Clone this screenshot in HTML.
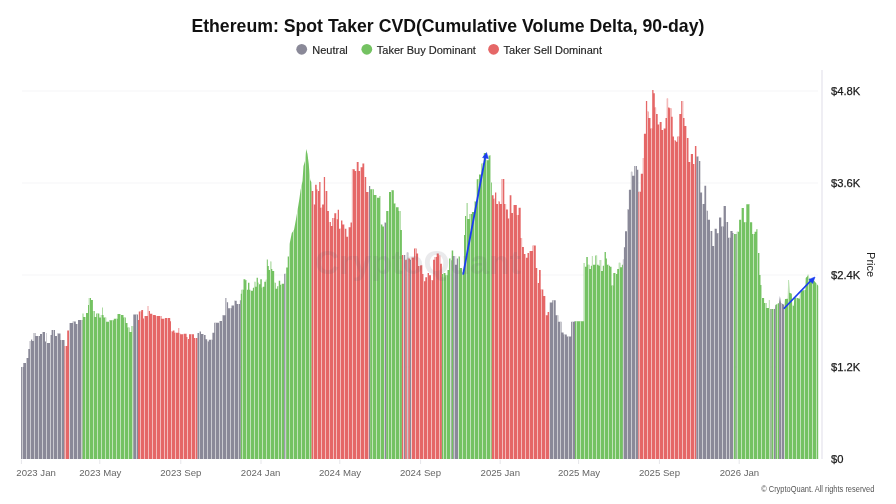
<!DOCTYPE html>
<html><head><meta charset="utf-8">
<style>
html,body{margin:0;padding:0;background:#fff;width:896px;height:504px;overflow:hidden}
svg{display:block;font-family:"Liberation Sans",sans-serif;will-change:transform}
</style></head>
<body>
<svg width="896" height="504" viewBox="0 0 896 504">
<defs><clipPath id="bc">
<polygon points="21.10,459.00 21.10,367.00 21.10,367.00 23.30,367.00 23.30,363.00 26.00,363.00 26.00,358.00 28.30,358.00 28.30,349.00 29.70,349.00 29.70,341.00 31.00,341.00 31.00,339.50 32.20,339.50 32.20,341.00 33.60,341.00 33.60,333.00 35.50,333.00 35.50,336.00 37.70,336.00 37.70,336.00 40.00,336.00 40.00,334.00 42.20,334.00 42.20,332.00 45.00,332.00 45.00,341.60 46.00,341.60 46.00,333.00 46.60,333.00 46.60,343.00 50.00,343.00 50.00,335.00 51.60,335.00 51.60,330.00 55.00,330.00 55.00,336.00 57.20,336.00 57.20,333.50 60.50,333.50 60.50,340.00 64.50,340.00 64.50,459.00"/>
<polygon points="64.50,459.00 64.50,340.00 64.50,346.00 67.20,346.00 67.20,330.50 69.40,330.50 69.40,459.00"/>
<polygon points="69.40,459.00 69.40,330.50 69.40,323.00 72.70,323.00 72.70,321.50 75.80,321.50 75.80,324.00 78.00,324.00 78.00,320.00 82.60,320.00 82.60,459.00"/>
<polygon points="82.60,459.00 82.60,320.00 82.60,313.60 83.40,313.60 83.40,317.00 86.00,317.00 86.00,313.00 88.00,313.00 88.00,305.00 88.80,305.00 88.80,298.00 91.00,298.00 91.00,300.00 92.90,300.00 92.90,311.00 94.70,311.00 94.70,317.00 96.20,317.00 96.20,313.60 99.30,313.60 99.30,317.40 100.80,317.40 100.80,315.00 102.00,315.00 102.00,307.50 102.60,307.50 102.60,315.00 103.60,315.00 103.60,317.50 106.20,317.50 106.20,321.80 109.00,321.80 109.00,320.30 113.80,320.30 113.80,318.70 117.50,318.70 117.50,314.00 121.00,314.00 121.00,315.00 123.50,315.00 123.50,317.50 125.80,317.50 125.80,323.00 127.50,323.00 127.50,327.50 129.50,327.50 129.50,332.00 131.50,332.00 131.50,326.00 133.30,326.00 133.30,459.00"/>
<polygon points="133.30,459.00 133.30,326.00 133.30,314.60 138.00,314.60 138.00,459.00"/>
<polygon points="138.00,459.00 138.00,314.60 138.00,320.00 138.80,320.00 138.80,311.40 141.30,311.40 141.30,310.00 143.10,310.00 143.10,318.40 144.00,318.40 144.00,316.00 147.70,316.00 147.70,306.00 148.40,306.00 148.40,311.00 150.00,311.00 150.00,313.70 152.40,313.70 152.40,315.10 155.80,315.10 155.80,316.00 161.50,316.00 161.50,318.80 165.00,318.80 165.00,318.00 170.20,318.00 170.20,321.20 171.00,321.20 171.00,331.40 172.70,331.40 172.70,330.50 174.50,330.50 174.50,332.80 178.50,332.80 178.50,328.00 179.20,328.00 179.20,333.30 180.20,333.30 180.20,334.20 183.80,334.20 183.80,333.70 186.60,333.70 186.60,337.00 187.60,337.00 187.60,339.00 189.00,339.00 189.00,334.20 191.30,334.20 191.30,334.20 194.00,334.20 194.00,338.00 197.50,338.00 197.50,459.00"/>
<polygon points="197.50,459.00 197.50,338.00 197.50,333.00 199.50,333.00 199.50,331.50 201.00,331.50 201.00,334.00 203.80,334.00 203.80,335.00 205.60,335.00 205.60,339.30 207.20,339.30 207.20,341.40 208.80,341.40 208.80,339.80 212.40,339.80 212.40,332.80 214.20,332.80 214.20,322.70 219.00,322.70 219.00,321.00 222.20,321.00 222.20,315.20 225.40,315.20 225.40,298.00 226.50,298.00 226.50,302.30 228.10,302.30 228.10,308.20 231.50,308.20 231.50,305.50 234.00,305.50 234.00,300.70 236.70,300.70 236.70,303.90 239.90,303.90 239.90,300.20 240.80,300.20 240.80,459.00"/>
<polygon points="240.80,459.00 240.80,300.20 240.80,293.70 241.50,293.70 241.50,289.70 243.50,289.70 243.50,279.30 245.40,279.30 245.40,280.30 247.00,280.30 247.00,289.70 248.00,289.70 248.00,282.80 249.40,282.80 249.40,289.70 250.40,289.70 250.40,290.70 252.90,290.70 252.90,287.70 254.40,287.70 254.40,281.80 255.40,281.80 255.40,286.70 256.60,286.70 256.60,277.80 257.90,277.80 257.90,282.80 258.90,282.80 258.90,284.30 260.30,284.30 260.30,279.30 261.80,279.30 261.80,287.70 262.80,287.70 262.80,286.70 264.30,286.70 264.30,281.80 265.80,281.80 265.80,279.80 266.80,279.80 266.80,259.40 267.80,259.40 267.80,265.90 268.80,265.90 268.80,269.90 270.30,269.90 270.30,261.40 271.30,261.40 271.30,268.90 272.30,268.90 272.30,270.90 274.20,270.90 274.20,282.80 275.70,282.80 275.70,288.70 277.20,288.70 277.20,286.20 278.70,286.20 278.70,280.80 280.20,280.80 280.20,284.80 281.70,284.80 281.70,283.80 284.20,283.80 284.20,459.00"/>
<polygon points="284.20,459.00 284.20,283.80 284.20,273.80 286.20,273.80 286.20,459.00"/>
<polygon points="286.20,459.00 286.20,273.80 286.20,267.40 287.70,267.40 287.70,256.50 289.10,256.50 289.60,244.00 291.80,233.00 294.00,230.00 296.20,218.00 298.40,205.00 299.50,198.00 300.60,190.00 302.50,181.00 303.50,166.00 305.00,161.00 306.25,149.00 307.50,154.00 308.75,164.00 309.40,172.50 310.25,180.00 311.30,182.00 311.60,190.87 311.60,459.00"/>
<polygon points="311.60,459.00 311.60,190.87 311.60,190.90 313.40,190.90 313.40,204.40 315.10,204.40 315.10,184.80 316.70,184.80 316.70,189.50 317.80,189.50 317.80,190.90 319.20,190.90 319.20,182.00 320.50,182.00 320.50,207.80 322.10,207.80 322.10,204.40 323.80,204.40 323.80,177.00 325.10,177.00 325.10,190.90 327.30,190.90 327.30,211.10 328.90,211.10 328.90,222.00 330.90,222.00 330.90,226.00 332.30,226.00 332.30,217.90 334.30,217.90 334.30,213.20 336.30,213.20 336.30,219.20 337.70,219.20 337.70,209.80 339.00,209.80 339.00,228.70 341.00,228.70 341.00,220.60 342.40,220.60 342.40,224.60 344.40,224.60 344.40,228.70 346.40,228.70 346.40,236.80 348.50,236.80 348.50,227.30 350.50,227.30 350.50,222.60 351.90,222.60 351.90,169.20 354.80,169.20 354.80,171.10 356.70,171.10 356.70,162.00 358.60,162.00 358.60,171.10 360.50,171.10 360.50,167.30 362.40,167.30 362.40,163.50 364.30,163.50 364.30,176.90 366.20,176.90 366.20,192.00 369.00,192.00 369.00,459.00"/>
<polygon points="369.00,459.00 369.00,192.00 369.00,186.00 370.20,186.00 370.20,459.00"/>
<polygon points="370.20,459.00 370.20,186.00 370.20,189.20 373.80,189.20 373.80,195.00 376.70,195.00 376.70,197.80 379.50,197.80 379.50,196.00 380.50,196.00 380.50,224.50 382.40,224.50 382.40,226.40 384.30,226.40 384.30,459.00"/>
<polygon points="384.30,459.00 384.30,226.40 384.30,222.60 386.20,222.60 386.20,459.00"/>
<polygon points="386.20,459.00 386.20,222.60 386.20,211.00 389.00,211.00 389.00,192.00 391.00,192.00 391.00,190.20 393.80,190.20 393.80,203.50 395.70,203.50 395.70,207.30 398.60,207.30 398.60,211.00 400.50,211.00 400.50,230.00 401.90,230.00 401.90,459.00"/>
<polygon points="401.90,459.00 401.90,230.00 401.90,255.00 403.70,255.00 403.70,459.00"/>
<polygon points="403.70,459.00 403.70,255.00 403.70,255.00 405.20,255.00 405.20,459.00"/>
<polygon points="405.20,459.00 405.20,255.00 405.20,259.70 406.80,259.70 406.80,459.00"/>
<polygon points="406.80,459.00 406.80,259.70 406.80,252.50 408.30,252.50 408.30,459.00"/>
<polygon points="408.30,459.00 408.30,252.50 408.30,258.60 409.90,258.60 409.90,459.00"/>
<polygon points="409.90,459.00 409.90,258.60 409.90,259.70 411.40,259.70 411.40,459.00"/>
<polygon points="411.40,459.00 411.40,259.70 411.40,257.60 414.00,257.60 414.00,248.50 416.60,248.50 416.60,253.50 418.10,253.50 418.10,265.90 420.20,265.90 420.20,265.30 422.30,265.30 422.30,274.10 423.80,274.10 423.80,281.30 425.30,281.30 425.30,277.20 427.40,277.20 427.40,273.10 429.00,273.10 429.00,275.20 431.00,275.20 431.00,280.30 433.10,280.30 433.10,259.70 434.60,259.70 434.60,257.10 436.70,257.10 436.70,253.50 438.80,253.50 438.80,255.50 440.30,255.50 440.30,263.80 441.90,263.80 441.90,459.00"/>
<polygon points="441.90,459.00 441.90,263.80 441.90,274.10 443.40,274.10 443.40,273.10 445.50,273.10 445.50,275.20 447.50,275.20 447.50,270.00 449.10,270.00 449.10,258.60 450.60,258.60 450.60,459.00"/>
<polygon points="450.60,459.00 450.60,258.60 450.60,260.20 451.70,260.20 451.70,459.00"/>
<polygon points="451.70,459.00 451.70,260.20 451.70,250.50 453.20,250.50 453.20,459.00"/>
<polygon points="453.20,459.00 453.20,250.50 453.20,256.10 454.80,256.10 454.80,264.80 456.80,264.80 456.80,258.60 458.40,258.60 458.40,459.00"/>
<polygon points="458.40,459.00 458.40,258.60 458.40,256.60 459.90,256.60 459.90,267.90 462.00,267.90 462.00,272.00 464.00,272.00 464.00,235.00 465.00,235.00 465.00,216.00 466.60,216.00 466.60,203.00 467.50,203.00 467.50,219.00 469.50,219.00 469.50,214.00 471.90,214.00 471.90,212.00 474.30,212.00 474.30,201.60 476.70,201.60 476.70,179.30 479.00,179.30 479.00,174.60 481.40,174.60 481.40,163.50 483.80,163.50 483.80,153.10 486.20,153.10 486.20,160.30 488.60,160.30 488.60,155.50 491.00,155.50 491.00,182.50 491.80,182.50 491.80,459.00"/>
<polygon points="491.80,459.00 491.80,182.50 491.80,195.20 493.60,195.20 493.60,198.80 495.00,198.80 495.00,192.50 496.30,192.50 496.30,204.00 498.00,204.00 498.00,201.50 499.80,201.50 499.80,204.00 501.60,204.00 501.60,179.00 504.30,179.00 504.30,204.00 506.10,204.00 506.10,209.50 507.90,209.50 507.90,218.40 509.60,218.40 509.60,195.20 511.40,195.20 511.40,213.00 513.20,213.00 513.20,205.00 516.80,205.00 516.80,214.90 518.60,214.90 518.60,207.70 520.70,207.70 520.70,238.00 522.10,238.00 522.10,247.00 523.90,247.00 523.90,254.00 525.70,254.00 525.70,257.70 527.50,257.70 527.50,253.10 529.40,253.10 529.40,251.00 532.60,251.00 532.60,245.60 535.80,245.60 535.80,268.10 537.30,268.10 537.30,283.10 539.00,283.10 539.00,270.00 540.70,270.00 540.70,289.50 543.30,289.50 543.30,296.00 545.40,296.00 545.40,315.20 547.60,315.20 547.60,312.00 549.70,312.00 549.70,459.00"/>
<polygon points="549.70,459.00 549.70,312.00 549.70,302.40 552.30,302.40 552.30,300.20 555.70,300.20 555.70,315.20 558.30,315.20 558.30,321.70 561.50,321.70 561.50,332.40 563.60,332.40 563.60,334.50 566.80,334.50 566.80,336.60 571.10,336.60 571.10,321.70 574.30,321.70 574.30,321.20 575.00,321.20 575.00,459.00"/>
<polygon points="575.00,459.00 575.00,321.20 583.70,321.20 583.70,263.00 584.70,263.00 584.70,266.80 586.30,266.80 586.30,257.00 587.80,257.00 587.80,264.80 589.40,264.80 589.40,268.90 590.90,268.90 590.90,265.80 591.90,265.80 591.90,256.00 593.00,256.00 593.00,264.80 595.30,264.80 595.30,255.50 597.10,255.50 597.10,264.80 598.60,264.80 598.60,265.80 599.70,265.80 599.70,260.10 601.20,260.10 601.20,271.00 602.80,271.00 602.80,265.80 604.30,265.80 604.30,252.00 605.90,252.00 605.90,258.60 606.90,258.60 606.90,264.80 609.00,264.80 609.00,265.80 610.00,265.80 610.00,266.80 611.50,266.80 611.50,285.40 613.30,285.40 613.30,273.00 615.70,273.00 615.70,274.00 617.20,274.00 617.20,268.90 618.80,268.90 618.80,262.70 620.30,262.70 620.30,267.30 621.90,267.30 621.90,264.80 622.90,264.80 622.90,459.00"/>
<polygon points="622.90,459.00 622.90,264.80 622.90,259.60 623.90,259.60 623.90,247.20 625.00,247.20 625.00,231.30 627.00,231.30 627.00,209.50 628.90,209.50 628.90,189.70 630.90,189.70 630.90,171.80 632.30,171.80 632.30,175.80 634.30,175.80 634.30,166.00 636.90,166.00 636.90,169.80 638.30,169.80 638.30,459.00"/>
<polygon points="638.30,459.00 638.30,169.80 638.30,191.70 640.80,191.70 640.80,173.80 642.80,173.80 642.80,158.00 643.90,158.00 643.90,133.80 645.90,133.80 645.90,101.00 647.20,101.00 647.20,111.50 648.50,111.50 648.50,118.00 650.50,118.00 650.50,128.60 652.20,128.60 652.20,89.90 653.50,89.90 653.50,93.20 654.80,93.20 654.80,107.60 656.10,107.60 656.10,114.10 657.70,114.10 657.70,124.60 659.60,124.60 659.60,122.00 661.60,122.00 661.60,129.90 663.60,129.90 663.60,128.60 665.50,128.60 665.50,118.00 666.80,118.00 666.80,98.40 668.10,98.40 668.10,107.60 669.50,107.60 669.50,108.20 671.40,108.20 671.40,116.80 672.70,116.80 672.70,136.40 674.00,136.40 674.00,140.40 676.00,140.40 676.00,141.70 677.30,141.70 677.30,136.40 679.30,136.40 679.30,114.10 681.20,114.10 681.20,101.00 683.20,101.00 683.20,118.00 684.50,118.00 684.50,126.00 686.50,126.00 686.50,138.00 688.50,138.00 688.50,162.00 690.80,162.00 690.80,154.00 693.00,154.00 693.00,164.00 694.90,164.00 694.90,146.00 696.40,146.00 696.40,459.00"/>
<polygon points="696.40,459.00 696.40,146.00 696.40,156.40 698.70,156.40 698.70,160.90 700.30,160.90 700.30,192.60 702.10,192.60 702.10,203.90 704.40,203.90 704.40,185.80 706.20,185.80 706.20,210.70 707.80,210.70 707.80,219.70 710.00,219.70 710.00,231.00 712.30,231.00 712.30,246.00 714.50,246.00 714.50,228.80 716.80,228.80 716.80,233.30 719.00,233.30 719.00,217.40 721.30,217.40 721.30,226.50 723.60,226.50 723.60,206.10 725.90,206.10 725.90,222.00 728.10,222.00 728.10,237.80 730.40,237.80 730.40,231.00 732.60,231.00 732.60,233.00 733.60,233.00 733.60,459.00"/>
<polygon points="733.60,459.00 733.60,233.00 733.60,234.00 735.80,234.00 735.80,459.00"/>
<polygon points="735.80,459.00 735.80,234.00 736.70,234.00 736.70,459.00"/>
<polygon points="736.70,459.00 736.70,234.00 736.80,234.00 736.80,231.70 739.10,231.70 739.10,219.80 741.50,219.80 741.50,207.90 743.90,207.90 743.90,222.20 746.30,222.20 746.30,204.30 749.90,204.30 749.90,222.20 752.20,222.20 752.20,234.00 754.60,234.00 754.60,231.70 756.30,231.70 756.30,229.30 757.70,229.30 757.70,253.00 759.40,253.00 759.40,275.00 760.50,275.00 760.50,285.00 761.80,285.00 761.80,298.00 764.10,298.00 764.10,303.00 766.50,303.00 766.50,308.00 768.90,308.00 768.90,300.00 769.60,300.00 769.60,309.00 770.60,309.00 770.60,459.00"/>
<polygon points="770.60,459.00 770.60,309.00 771.60,309.00 771.60,459.00"/>
<polygon points="771.60,459.00 771.60,309.00 772.00,309.00 773.00,309.00 774.00,309.00 774.00,459.00"/>
<polygon points="774.00,459.00 774.00,309.00 774.90,309.00 775.20,305.00 775.80,304.68 775.80,459.00"/>
<polygon points="775.80,459.00 775.80,304.68 779.00,303.00 779.10,302.22 779.10,459.00"/>
<polygon points="779.10,459.00 779.10,302.22 779.90,296.00 781.00,303.00 784.50,305.00 784.70,302.60 784.70,459.00"/>
<polygon points="784.70,459.00 784.70,302.60 785.00,299.00 787.80,298.70 788.10,280.00 789.00,280.00 789.50,292.80 791.80,293.80 792.20,305.70 793.80,305.70 794.20,297.70 796.70,297.70 799.70,298.70 800.10,290.80 805.40,290.00 805.70,277.90 807.60,276.00 808.00,274.00 809.60,278.90 813.60,280.00 816.00,282.90 818.20,285.80 818.20,459.00"/>
</clipPath></defs>
<text x="191.4" y="31.9" font-size="18.4" font-weight="bold" fill="#111" textLength="513" lengthAdjust="spacingAndGlyphs">Ethereum: Spot Taker CVD(Cumulative Volume Delta, 90-day)</text>
<g font-size="11" fill="#222" stroke="#222" stroke-width="0.15">
<circle cx="301.7" cy="49.3" r="5.4" fill="#8a8998" stroke="none"/>
<text x="312.3" y="53.9">Neutral</text>
<circle cx="366.8" cy="49.3" r="5.4" fill="#74c262" stroke="none"/>
<text x="376.8" y="53.9">Taker Buy Dominant</text>
<circle cx="493.6" cy="49.3" r="5.4" fill="#e56767" stroke="none"/>
<text x="503.6" y="53.9">Taker Sell Dominant</text>
</g>
<g stroke="#f6f6f7" stroke-width="1.2">
<path d="M22 91H818M22 183H818M22 275H818M22 367H818"/>
</g>
<g>
<polygon fill="#8a8998" points="21.10,459.00 21.10,367.00 21.10,367.00 23.30,367.00 23.30,363.00 26.00,363.00 26.00,358.00 28.30,358.00 28.30,349.00 29.70,349.00 29.70,341.00 31.00,341.00 31.00,339.50 32.20,339.50 32.20,341.00 33.60,341.00 33.60,333.00 35.50,333.00 35.50,336.00 37.70,336.00 37.70,336.00 40.00,336.00 40.00,334.00 42.20,334.00 42.20,332.00 45.00,332.00 45.00,341.60 46.00,341.60 46.00,333.00 46.60,333.00 46.60,343.00 50.00,343.00 50.00,335.00 51.60,335.00 51.60,330.00 55.00,330.00 55.00,336.00 57.20,336.00 57.20,333.50 60.50,333.50 60.50,340.00 64.50,340.00 64.50,459.00"/>
<polygon fill="#e56767" points="64.50,459.00 64.50,340.00 64.50,346.00 67.20,346.00 67.20,330.50 69.40,330.50 69.40,459.00"/>
<polygon fill="#8a8998" points="69.40,459.00 69.40,330.50 69.40,323.00 72.70,323.00 72.70,321.50 75.80,321.50 75.80,324.00 78.00,324.00 78.00,320.00 82.60,320.00 82.60,459.00"/>
<polygon fill="#74c262" points="82.60,459.00 82.60,320.00 82.60,313.60 83.40,313.60 83.40,317.00 86.00,317.00 86.00,313.00 88.00,313.00 88.00,305.00 88.80,305.00 88.80,298.00 91.00,298.00 91.00,300.00 92.90,300.00 92.90,311.00 94.70,311.00 94.70,317.00 96.20,317.00 96.20,313.60 99.30,313.60 99.30,317.40 100.80,317.40 100.80,315.00 102.00,315.00 102.00,307.50 102.60,307.50 102.60,315.00 103.60,315.00 103.60,317.50 106.20,317.50 106.20,321.80 109.00,321.80 109.00,320.30 113.80,320.30 113.80,318.70 117.50,318.70 117.50,314.00 121.00,314.00 121.00,315.00 123.50,315.00 123.50,317.50 125.80,317.50 125.80,323.00 127.50,323.00 127.50,327.50 129.50,327.50 129.50,332.00 131.50,332.00 131.50,326.00 133.30,326.00 133.30,459.00"/>
<polygon fill="#8a8998" points="133.30,459.00 133.30,326.00 133.30,314.60 138.00,314.60 138.00,459.00"/>
<polygon fill="#e56767" points="138.00,459.00 138.00,314.60 138.00,320.00 138.80,320.00 138.80,311.40 141.30,311.40 141.30,310.00 143.10,310.00 143.10,318.40 144.00,318.40 144.00,316.00 147.70,316.00 147.70,306.00 148.40,306.00 148.40,311.00 150.00,311.00 150.00,313.70 152.40,313.70 152.40,315.10 155.80,315.10 155.80,316.00 161.50,316.00 161.50,318.80 165.00,318.80 165.00,318.00 170.20,318.00 170.20,321.20 171.00,321.20 171.00,331.40 172.70,331.40 172.70,330.50 174.50,330.50 174.50,332.80 178.50,332.80 178.50,328.00 179.20,328.00 179.20,333.30 180.20,333.30 180.20,334.20 183.80,334.20 183.80,333.70 186.60,333.70 186.60,337.00 187.60,337.00 187.60,339.00 189.00,339.00 189.00,334.20 191.30,334.20 191.30,334.20 194.00,334.20 194.00,338.00 197.50,338.00 197.50,459.00"/>
<polygon fill="#8a8998" points="197.50,459.00 197.50,338.00 197.50,333.00 199.50,333.00 199.50,331.50 201.00,331.50 201.00,334.00 203.80,334.00 203.80,335.00 205.60,335.00 205.60,339.30 207.20,339.30 207.20,341.40 208.80,341.40 208.80,339.80 212.40,339.80 212.40,332.80 214.20,332.80 214.20,322.70 219.00,322.70 219.00,321.00 222.20,321.00 222.20,315.20 225.40,315.20 225.40,298.00 226.50,298.00 226.50,302.30 228.10,302.30 228.10,308.20 231.50,308.20 231.50,305.50 234.00,305.50 234.00,300.70 236.70,300.70 236.70,303.90 239.90,303.90 239.90,300.20 240.80,300.20 240.80,459.00"/>
<polygon fill="#74c262" points="240.80,459.00 240.80,300.20 240.80,293.70 241.50,293.70 241.50,289.70 243.50,289.70 243.50,279.30 245.40,279.30 245.40,280.30 247.00,280.30 247.00,289.70 248.00,289.70 248.00,282.80 249.40,282.80 249.40,289.70 250.40,289.70 250.40,290.70 252.90,290.70 252.90,287.70 254.40,287.70 254.40,281.80 255.40,281.80 255.40,286.70 256.60,286.70 256.60,277.80 257.90,277.80 257.90,282.80 258.90,282.80 258.90,284.30 260.30,284.30 260.30,279.30 261.80,279.30 261.80,287.70 262.80,287.70 262.80,286.70 264.30,286.70 264.30,281.80 265.80,281.80 265.80,279.80 266.80,279.80 266.80,259.40 267.80,259.40 267.80,265.90 268.80,265.90 268.80,269.90 270.30,269.90 270.30,261.40 271.30,261.40 271.30,268.90 272.30,268.90 272.30,270.90 274.20,270.90 274.20,282.80 275.70,282.80 275.70,288.70 277.20,288.70 277.20,286.20 278.70,286.20 278.70,280.80 280.20,280.80 280.20,284.80 281.70,284.80 281.70,283.80 284.20,283.80 284.20,459.00"/>
<polygon fill="#8a8998" points="284.20,459.00 284.20,283.80 284.20,273.80 286.20,273.80 286.20,459.00"/>
<polygon fill="#74c262" points="286.20,459.00 286.20,273.80 286.20,267.40 287.70,267.40 287.70,256.50 289.10,256.50 289.60,244.00 291.80,233.00 294.00,230.00 296.20,218.00 298.40,205.00 299.50,198.00 300.60,190.00 302.50,181.00 303.50,166.00 305.00,161.00 306.25,149.00 307.50,154.00 308.75,164.00 309.40,172.50 310.25,180.00 311.30,182.00 311.60,190.87 311.60,459.00"/>
<polygon fill="#e56767" points="311.60,459.00 311.60,190.87 311.60,190.90 313.40,190.90 313.40,204.40 315.10,204.40 315.10,184.80 316.70,184.80 316.70,189.50 317.80,189.50 317.80,190.90 319.20,190.90 319.20,182.00 320.50,182.00 320.50,207.80 322.10,207.80 322.10,204.40 323.80,204.40 323.80,177.00 325.10,177.00 325.10,190.90 327.30,190.90 327.30,211.10 328.90,211.10 328.90,222.00 330.90,222.00 330.90,226.00 332.30,226.00 332.30,217.90 334.30,217.90 334.30,213.20 336.30,213.20 336.30,219.20 337.70,219.20 337.70,209.80 339.00,209.80 339.00,228.70 341.00,228.70 341.00,220.60 342.40,220.60 342.40,224.60 344.40,224.60 344.40,228.70 346.40,228.70 346.40,236.80 348.50,236.80 348.50,227.30 350.50,227.30 350.50,222.60 351.90,222.60 351.90,169.20 354.80,169.20 354.80,171.10 356.70,171.10 356.70,162.00 358.60,162.00 358.60,171.10 360.50,171.10 360.50,167.30 362.40,167.30 362.40,163.50 364.30,163.50 364.30,176.90 366.20,176.90 366.20,192.00 369.00,192.00 369.00,459.00"/>
<polygon fill="#8a8998" points="369.00,459.00 369.00,192.00 369.00,186.00 370.20,186.00 370.20,459.00"/>
<polygon fill="#74c262" points="370.20,459.00 370.20,186.00 370.20,189.20 373.80,189.20 373.80,195.00 376.70,195.00 376.70,197.80 379.50,197.80 379.50,196.00 380.50,196.00 380.50,224.50 382.40,224.50 382.40,226.40 384.30,226.40 384.30,459.00"/>
<polygon fill="#8a8998" points="384.30,459.00 384.30,226.40 384.30,222.60 386.20,222.60 386.20,459.00"/>
<polygon fill="#74c262" points="386.20,459.00 386.20,222.60 386.20,211.00 389.00,211.00 389.00,192.00 391.00,192.00 391.00,190.20 393.80,190.20 393.80,203.50 395.70,203.50 395.70,207.30 398.60,207.30 398.60,211.00 400.50,211.00 400.50,230.00 401.90,230.00 401.90,459.00"/>
<polygon fill="#e56767" points="401.90,459.00 401.90,230.00 401.90,255.00 403.70,255.00 403.70,459.00"/>
<polygon fill="#8a8998" points="403.70,459.00 403.70,255.00 403.70,255.00 405.20,255.00 405.20,459.00"/>
<polygon fill="#e56767" points="405.20,459.00 405.20,255.00 405.20,259.70 406.80,259.70 406.80,459.00"/>
<polygon fill="#8a8998" points="406.80,459.00 406.80,259.70 406.80,252.50 408.30,252.50 408.30,459.00"/>
<polygon fill="#e56767" points="408.30,459.00 408.30,252.50 408.30,258.60 409.90,258.60 409.90,459.00"/>
<polygon fill="#8a8998" points="409.90,459.00 409.90,258.60 409.90,259.70 411.40,259.70 411.40,459.00"/>
<polygon fill="#e56767" points="411.40,459.00 411.40,259.70 411.40,257.60 414.00,257.60 414.00,248.50 416.60,248.50 416.60,253.50 418.10,253.50 418.10,265.90 420.20,265.90 420.20,265.30 422.30,265.30 422.30,274.10 423.80,274.10 423.80,281.30 425.30,281.30 425.30,277.20 427.40,277.20 427.40,273.10 429.00,273.10 429.00,275.20 431.00,275.20 431.00,280.30 433.10,280.30 433.10,259.70 434.60,259.70 434.60,257.10 436.70,257.10 436.70,253.50 438.80,253.50 438.80,255.50 440.30,255.50 440.30,263.80 441.90,263.80 441.90,459.00"/>
<polygon fill="#74c262" points="441.90,459.00 441.90,263.80 441.90,274.10 443.40,274.10 443.40,273.10 445.50,273.10 445.50,275.20 447.50,275.20 447.50,270.00 449.10,270.00 449.10,258.60 450.60,258.60 450.60,459.00"/>
<polygon fill="#8a8998" points="450.60,459.00 450.60,258.60 450.60,260.20 451.70,260.20 451.70,459.00"/>
<polygon fill="#74c262" points="451.70,459.00 451.70,260.20 451.70,250.50 453.20,250.50 453.20,459.00"/>
<polygon fill="#8a8998" points="453.20,459.00 453.20,250.50 453.20,256.10 454.80,256.10 454.80,264.80 456.80,264.80 456.80,258.60 458.40,258.60 458.40,459.00"/>
<polygon fill="#74c262" points="458.40,459.00 458.40,258.60 458.40,256.60 459.90,256.60 459.90,267.90 462.00,267.90 462.00,272.00 464.00,272.00 464.00,235.00 465.00,235.00 465.00,216.00 466.60,216.00 466.60,203.00 467.50,203.00 467.50,219.00 469.50,219.00 469.50,214.00 471.90,214.00 471.90,212.00 474.30,212.00 474.30,201.60 476.70,201.60 476.70,179.30 479.00,179.30 479.00,174.60 481.40,174.60 481.40,163.50 483.80,163.50 483.80,153.10 486.20,153.10 486.20,160.30 488.60,160.30 488.60,155.50 491.00,155.50 491.00,182.50 491.80,182.50 491.80,459.00"/>
<polygon fill="#e56767" points="491.80,459.00 491.80,182.50 491.80,195.20 493.60,195.20 493.60,198.80 495.00,198.80 495.00,192.50 496.30,192.50 496.30,204.00 498.00,204.00 498.00,201.50 499.80,201.50 499.80,204.00 501.60,204.00 501.60,179.00 504.30,179.00 504.30,204.00 506.10,204.00 506.10,209.50 507.90,209.50 507.90,218.40 509.60,218.40 509.60,195.20 511.40,195.20 511.40,213.00 513.20,213.00 513.20,205.00 516.80,205.00 516.80,214.90 518.60,214.90 518.60,207.70 520.70,207.70 520.70,238.00 522.10,238.00 522.10,247.00 523.90,247.00 523.90,254.00 525.70,254.00 525.70,257.70 527.50,257.70 527.50,253.10 529.40,253.10 529.40,251.00 532.60,251.00 532.60,245.60 535.80,245.60 535.80,268.10 537.30,268.10 537.30,283.10 539.00,283.10 539.00,270.00 540.70,270.00 540.70,289.50 543.30,289.50 543.30,296.00 545.40,296.00 545.40,315.20 547.60,315.20 547.60,312.00 549.70,312.00 549.70,459.00"/>
<polygon fill="#8a8998" points="549.70,459.00 549.70,312.00 549.70,302.40 552.30,302.40 552.30,300.20 555.70,300.20 555.70,315.20 558.30,315.20 558.30,321.70 561.50,321.70 561.50,332.40 563.60,332.40 563.60,334.50 566.80,334.50 566.80,336.60 571.10,336.60 571.10,321.70 574.30,321.70 574.30,321.20 575.00,321.20 575.00,459.00"/>
<polygon fill="#74c262" points="575.00,459.00 575.00,321.20 583.70,321.20 583.70,263.00 584.70,263.00 584.70,266.80 586.30,266.80 586.30,257.00 587.80,257.00 587.80,264.80 589.40,264.80 589.40,268.90 590.90,268.90 590.90,265.80 591.90,265.80 591.90,256.00 593.00,256.00 593.00,264.80 595.30,264.80 595.30,255.50 597.10,255.50 597.10,264.80 598.60,264.80 598.60,265.80 599.70,265.80 599.70,260.10 601.20,260.10 601.20,271.00 602.80,271.00 602.80,265.80 604.30,265.80 604.30,252.00 605.90,252.00 605.90,258.60 606.90,258.60 606.90,264.80 609.00,264.80 609.00,265.80 610.00,265.80 610.00,266.80 611.50,266.80 611.50,285.40 613.30,285.40 613.30,273.00 615.70,273.00 615.70,274.00 617.20,274.00 617.20,268.90 618.80,268.90 618.80,262.70 620.30,262.70 620.30,267.30 621.90,267.30 621.90,264.80 622.90,264.80 622.90,459.00"/>
<polygon fill="#8a8998" points="622.90,459.00 622.90,264.80 622.90,259.60 623.90,259.60 623.90,247.20 625.00,247.20 625.00,231.30 627.00,231.30 627.00,209.50 628.90,209.50 628.90,189.70 630.90,189.70 630.90,171.80 632.30,171.80 632.30,175.80 634.30,175.80 634.30,166.00 636.90,166.00 636.90,169.80 638.30,169.80 638.30,459.00"/>
<polygon fill="#e56767" points="638.30,459.00 638.30,169.80 638.30,191.70 640.80,191.70 640.80,173.80 642.80,173.80 642.80,158.00 643.90,158.00 643.90,133.80 645.90,133.80 645.90,101.00 647.20,101.00 647.20,111.50 648.50,111.50 648.50,118.00 650.50,118.00 650.50,128.60 652.20,128.60 652.20,89.90 653.50,89.90 653.50,93.20 654.80,93.20 654.80,107.60 656.10,107.60 656.10,114.10 657.70,114.10 657.70,124.60 659.60,124.60 659.60,122.00 661.60,122.00 661.60,129.90 663.60,129.90 663.60,128.60 665.50,128.60 665.50,118.00 666.80,118.00 666.80,98.40 668.10,98.40 668.10,107.60 669.50,107.60 669.50,108.20 671.40,108.20 671.40,116.80 672.70,116.80 672.70,136.40 674.00,136.40 674.00,140.40 676.00,140.40 676.00,141.70 677.30,141.70 677.30,136.40 679.30,136.40 679.30,114.10 681.20,114.10 681.20,101.00 683.20,101.00 683.20,118.00 684.50,118.00 684.50,126.00 686.50,126.00 686.50,138.00 688.50,138.00 688.50,162.00 690.80,162.00 690.80,154.00 693.00,154.00 693.00,164.00 694.90,164.00 694.90,146.00 696.40,146.00 696.40,459.00"/>
<polygon fill="#8a8998" points="696.40,459.00 696.40,146.00 696.40,156.40 698.70,156.40 698.70,160.90 700.30,160.90 700.30,192.60 702.10,192.60 702.10,203.90 704.40,203.90 704.40,185.80 706.20,185.80 706.20,210.70 707.80,210.70 707.80,219.70 710.00,219.70 710.00,231.00 712.30,231.00 712.30,246.00 714.50,246.00 714.50,228.80 716.80,228.80 716.80,233.30 719.00,233.30 719.00,217.40 721.30,217.40 721.30,226.50 723.60,226.50 723.60,206.10 725.90,206.10 725.90,222.00 728.10,222.00 728.10,237.80 730.40,237.80 730.40,231.00 732.60,231.00 732.60,233.00 733.60,233.00 733.60,459.00"/>
<polygon fill="#74c262" points="733.60,459.00 733.60,233.00 733.60,234.00 735.80,234.00 735.80,459.00"/>
<polygon fill="#8a8998" points="735.80,459.00 735.80,234.00 736.70,234.00 736.70,459.00"/>
<polygon fill="#74c262" points="736.70,459.00 736.70,234.00 736.80,234.00 736.80,231.70 739.10,231.70 739.10,219.80 741.50,219.80 741.50,207.90 743.90,207.90 743.90,222.20 746.30,222.20 746.30,204.30 749.90,204.30 749.90,222.20 752.20,222.20 752.20,234.00 754.60,234.00 754.60,231.70 756.30,231.70 756.30,229.30 757.70,229.30 757.70,253.00 759.40,253.00 759.40,275.00 760.50,275.00 760.50,285.00 761.80,285.00 761.80,298.00 764.10,298.00 764.10,303.00 766.50,303.00 766.50,308.00 768.90,308.00 768.90,300.00 769.60,300.00 769.60,309.00 770.60,309.00 770.60,459.00"/>
<polygon fill="#8a8998" points="770.60,459.00 770.60,309.00 771.60,309.00 771.60,459.00"/>
<polygon fill="#74c262" points="771.60,459.00 771.60,309.00 772.00,309.00 773.00,309.00 774.00,309.00 774.00,459.00"/>
<polygon fill="#8a8998" points="774.00,459.00 774.00,309.00 774.90,309.00 775.20,305.00 775.80,304.68 775.80,459.00"/>
<polygon fill="#74c262" points="775.80,459.00 775.80,304.68 779.00,303.00 779.10,302.22 779.10,459.00"/>
<polygon fill="#8a8998" points="779.10,459.00 779.10,302.22 779.90,296.00 781.00,303.00 784.50,305.00 784.70,302.60 784.70,459.00"/>
<polygon fill="#74c262" points="784.70,459.00 784.70,302.60 785.00,299.00 787.80,298.70 788.10,280.00 789.00,280.00 789.50,292.80 791.80,293.80 792.20,305.70 793.80,305.70 794.20,297.70 796.70,297.70 799.70,298.70 800.10,290.80 805.40,290.00 805.70,277.90 807.60,276.00 808.00,274.00 809.60,278.90 813.60,280.00 816.00,282.90 818.20,285.80 818.20,459.00"/>
</g>
<path d="M22.50 80V460M26.50 80V460M30.50 80V460M34.50 80V460M38.50 80V460M42.50 80V460M46.50 80V460M50.50 80V460M53.50 80V460M57.50 80V460M61.50 80V460M65.50 80V460M69.50 80V460M73.50 80V460M77.50 80V460M81.50 80V460M85.50 80V460M89.50 80V460M93.50 80V460M97.50 80V460M101.50 80V460M105.50 80V460M109.50 80V460M112.50 80V460M116.50 80V460M120.50 80V460M124.50 80V460M128.50 80V460M132.50 80V460M136.50 80V460M140.50 80V460M144.50 80V460M148.50 80V460M152.50 80V460M156.50 80V460M160.50 80V460M164.50 80V460M167.50 80V460M171.50 80V460M175.50 80V460M179.50 80V460M183.50 80V460M187.50 80V460M191.50 80V460M195.50 80V460M199.50 80V460M203.50 80V460M207.50 80V460M211.50 80V460M215.50 80V460M219.50 80V460M222.50 80V460M226.50 80V460M230.50 80V460M234.50 80V460M238.50 80V460M242.50 80V460M246.50 80V460M250.50 80V460M254.50 80V460M258.50 80V460M262.50 80V460M266.50 80V460M270.50 80V460M274.50 80V460M278.50 80V460M281.50 80V460M285.50 80V460M289.50 80V460M293.50 80V460M297.50 80V460M301.50 80V460M305.50 80V460M309.50 80V460M313.50 80V460M317.50 80V460M321.50 80V460M325.50 80V460M329.50 80V460M333.50 80V460M336.50 80V460M340.50 80V460M344.50 80V460M348.50 80V460M352.50 80V460M356.50 80V460M360.50 80V460M364.50 80V460M368.50 80V460M372.50 80V460M376.50 80V460M380.50 80V460M384.50 80V460M388.50 80V460M391.50 80V460M395.50 80V460M399.50 80V460M403.50 80V460M407.50 80V460M411.50 80V460M415.50 80V460M419.50 80V460M423.50 80V460M427.50 80V460M431.50 80V460M435.50 80V460M439.50 80V460M443.50 80V460M446.50 80V460M450.50 80V460M454.50 80V460M458.50 80V460M462.50 80V460M466.50 80V460M470.50 80V460M474.50 80V460M478.50 80V460M482.50 80V460M486.50 80V460M490.50 80V460M494.50 80V460M498.50 80V460M502.50 80V460M505.50 80V460M509.50 80V460M513.50 80V460M517.50 80V460M521.50 80V460M525.50 80V460M529.50 80V460M533.50 80V460M537.50 80V460M541.50 80V460M545.50 80V460M549.50 80V460M553.50 80V460M557.50 80V460M560.50 80V460M564.50 80V460M568.50 80V460M572.50 80V460M576.50 80V460M580.50 80V460M584.50 80V460M588.50 80V460M592.50 80V460M596.50 80V460M600.50 80V460M604.50 80V460M608.50 80V460M612.50 80V460M615.50 80V460M619.50 80V460M623.50 80V460M627.50 80V460M631.50 80V460M635.50 80V460M639.50 80V460M643.50 80V460M647.50 80V460M651.50 80V460M655.50 80V460M659.50 80V460M663.50 80V460M667.50 80V460M670.50 80V460M674.50 80V460M678.50 80V460M682.50 80V460M686.50 80V460M690.50 80V460M694.50 80V460M698.50 80V460M702.50 80V460M706.50 80V460M710.50 80V460M714.50 80V460M718.50 80V460M722.50 80V460M726.50 80V460M729.50 80V460M733.50 80V460M737.50 80V460M741.50 80V460M745.50 80V460M749.50 80V460M753.50 80V460M757.50 80V460M761.50 80V460M765.50 80V460M769.50 80V460M773.50 80V460M777.50 80V460M781.50 80V460M784.50 80V460M788.50 80V460M792.50 80V460M796.50 80V460M800.50 80V460M804.50 80V460M808.50 80V460M812.50 80V460M816.50 80V460" stroke="#fff" stroke-opacity="0.55" stroke-width="1" clip-path="url(#bc)"/>
<text x="315" y="273.5" font-size="33.7" font-weight="bold" fill="#5a5a70" fill-opacity="0.13">CryptoQuant</text>
<g stroke="#1a3cf0" stroke-width="1.8" fill="#1a3cf0">
<path d="M463.1 274.6L485.1 158" fill="none"/>
<path d="M486.5 152.6L482.6 157.6L488.3 158.5Z" stroke-width="0.6"/>
<path d="M783.75 308.75L811 280.5" fill="none"/>
<path d="M815 277L809 279.4L812.6 283.5Z" stroke-width="0.6"/>
</g>
<path d="M822 70V459" stroke="#e4e3ec" stroke-width="1.2"/>
<path d="M21.4 459.5V464M99.8 459.5V464M180.8 459.5V464M261.0 459.5V464M339.8 459.5V464M420.6 459.5V464M500.2 459.5V464M578.6 459.5V464M659.4 459.5V464M739.2 459.5V464" stroke="#e6e6ea" stroke-width="1"/>
<g font-size="9.6" fill="#666">
<text x="36.1" y="476" text-anchor="middle">2023 Jan</text>
<text x="100.3" y="476" text-anchor="middle">2023 May</text>
<text x="180.8" y="476" text-anchor="middle">2023 Sep</text>
<text x="260.6" y="476" text-anchor="middle">2024 Jan</text>
<text x="340.0" y="476" text-anchor="middle">2024 May</text>
<text x="420.5" y="476" text-anchor="middle">2024 Sep</text>
<text x="500.3" y="476" text-anchor="middle">2025 Jan</text>
<text x="579.1" y="476" text-anchor="middle">2025 May</text>
<text x="659.5" y="476" text-anchor="middle">2025 Sep</text>
<text x="739.4" y="476" text-anchor="middle">2026 Jan</text>
</g>
<g font-size="11.2" fill="#1a1a1a" stroke="#1a1a1a" stroke-width="0.25">
<text x="831" y="94.6">$4.8K</text>
<text x="831" y="186.7">$3.6K</text>
<text x="831" y="278.8">$2.4K</text>
<text x="831" y="370.9">$1.2K</text>
<text x="831" y="462.7">$0</text>
</g>
<text transform="translate(866.6,252.1) rotate(90)" font-size="11" fill="#222">Price</text>
<text x="761.2" y="491.9" font-size="8.7" fill="#555" textLength="113.2" lengthAdjust="spacingAndGlyphs">© CryptoQuant. All rights reserved</text>
</svg>
</body></html>
